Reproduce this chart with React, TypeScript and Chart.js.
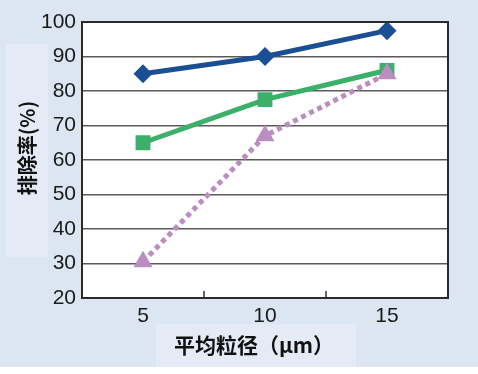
import React, { useEffect, useRef } from "react";
import { Chart, registerables } from "chart.js";

Chart.register(...registerables);

const categories = ["5", "10", "15"];
const seriesBlue = [85, 90, 97.5];
const seriesGreen = [65, 77.5, 86];
const seriesPurple = [30.5, 67, 85];
const yTicks = [20, 30, 40, 50, 60, 70, 80, 90, 100];
const xTitle = "平均粒径（μm）";
const yTitle = "排除率(%)";

const W = 478;
const H = 374;

const decorPlugin = {
  id: "decor",
  beforeDraw(chart: any) {
    const { ctx, chartArea } = chart;
    ctx.save();
    ctx.fillStyle = "#dce5f2";
    ctx.fillRect(0, 0, W, H);
    ctx.fillStyle = "#e4ebf6";
    ctx.fillRect(6, 44, 42, 213);
    ctx.fillRect(156, 324, 200, 43);
    ctx.fillStyle = "#ffffff";
    ctx.fillRect(0, 367, W, H - 367);
    ctx.fillRect(chartArea.left, chartArea.top, chartArea.right - chartArea.left, chartArea.bottom - chartArea.top);
    ctx.restore();
  },
  afterDatasetsDraw(chart: any) {
    const { ctx, chartArea, scales } = chart;
    const x = scales.x;
    ctx.save();
    ctx.strokeStyle = "#333";
    ctx.lineWidth = 1.5;
    for (let i = 0; i < categories.length - 1; i++) {
      const px = (x.getPixelForTick(i) + x.getPixelForTick(i + 1)) / 2;
      ctx.beginPath();
      ctx.moveTo(px, chartArea.bottom - 7);
      ctx.lineTo(px, chartArea.bottom);
      ctx.stroke();
    }
    ctx.strokeStyle = "#2a2a2a";
    ctx.lineWidth = 2;
    ctx.strokeRect(chartArea.left, chartArea.top, chartArea.right - chartArea.left, chartArea.bottom - chartArea.top);
    ctx.fillStyle = "#111";
    ctx.textAlign = "center";
    ctx.textBaseline = "middle";
    ctx.font = "bold 21px 'Noto Sans CJK SC'";
    ctx.fillText(xTitle, 254, 345);
    ctx.translate(27, 148);
    ctx.rotate(-Math.PI / 2);
    ctx.font = "bold 20px 'Noto Sans CJK SC'";
    ctx.fillText(yTitle, 0, 0);
    ctx.restore();
  },
};

export default function App() {
  const ref = useRef<HTMLCanvasElement>(null);
  useEffect(() => {
    document.body.style.margin = "0";
    const chart = new Chart(ref.current!, {
      type: "line",
      data: {
        labels: categories,
        datasets: [
          {
            data: seriesPurple,
            borderColor: "#bb8dc0",
            backgroundColor: "#bb8dc0",
            borderWidth: 5,
            borderDash: [5, 4],
            pointStyle: "triangle",
            pointRadius: 11,
            pointBorderWidth: 0,
          },
          {
            data: seriesGreen,
            borderColor: "#3bb06a",
            backgroundColor: "#3bb06a",
            borderWidth: 5,
            pointStyle: "rect",
            pointRadius: 10.5,
            pointBorderWidth: 0,
          },
          {
            data: seriesBlue,
            borderColor: "#1a4f94",
            backgroundColor: "#1a4f94",
            borderWidth: 5,
            pointStyle: "rectRot",
            pointRadius: 9.5,
            pointBorderWidth: 0,
          },
        ],
      },
      options: {
        responsive: false,
        animation: false,
        layout: { padding: { left: 0, top: 22, right: 30, bottom: 0 } },
        plugins: { legend: { display: false }, tooltip: { enabled: false } },
        elements: { line: { tension: 0 } },
        scales: {
          x: {
            type: "category",
            offset: true,
            grid: { display: false, drawTicks: false },
            border: { display: false },
            ticks: {
              padding: 6,
              color: "#1a1a1a",
              font: { family: "'Liberation Sans', Arial", size: 21 },
            },
            afterFit: (s: any) => {
              s.height = 76;
            },
          },
          y: {
            min: 20,
            max: 100,
            afterBuildTicks: (s: any) => {
              s.ticks = yTicks.map((v) => ({ value: v }));
            },
            grid: { color: "#5a5a5a", lineWidth: 1.5, drawTicks: false },
            border: { display: false },
            ticks: {
              padding: 6,
              color: "#1a1a1a",
              font: { family: "'Liberation Sans', Arial", size: 21 },
            },
            afterFit: (s: any) => {
              s.width = 82;
            },
          },
        },
      },
      plugins: [decorPlugin],
    });
    return () => chart.destroy();
  }, []);
  return (
    <div style={{ width: W, height: H }}>
      <canvas ref={ref} width={W} height={H} style={{ display: "block" }} />
    </div>
  );
}
